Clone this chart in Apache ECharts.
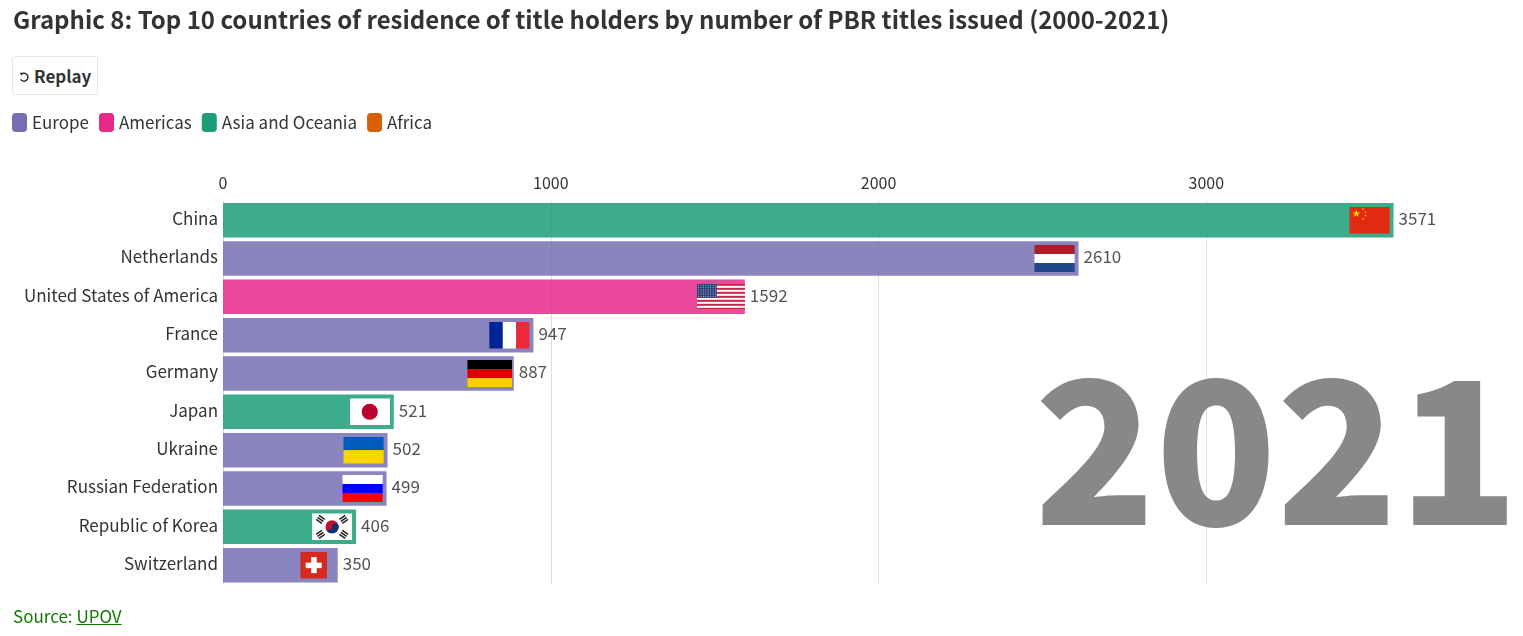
<!DOCTYPE html>
<html lang="en">
<head>
  <meta charset="UTF-8">
  <title>Graphic 8: Top 10 countries of residence of title holders</title>
  <script src="https://cdn.jsdelivr.net/npm/echarts@6/dist/echarts.min.js"></script>
  <style>
    html, body { margin: 0; padding: 0; background: #fff; overflow: hidden; }
    body { font-family: "Noto Sans CJK SC", "Noto Sans", sans-serif; color: #333; }
    #chart { position: absolute; left: 0; top: 0; width: 1523px; height: 636px; }
    #replay {
      position: absolute; left: 12px; top: 56px; width: 86px; height: 39px; box-sizing: border-box;
      background: #fff; border: 1px solid #e6e6e6; border-radius: 3px; padding: 0 0 0 6px;
      font: 700 17px/36px "Noto Sans CJK SC", sans-serif; color: #333; text-align: left;
    }
    #replay svg { vertical-align: 0px; margin-right: 4px; }
    #source { position: absolute; left: 13px; top: 604px; font-size: 17px; line-height: 24px; color: #117a00; }
    #source a { color: #117a00; text-decoration: underline; }
  </style>
</head>
<body>
  <div id="chart"></div>
  <button id="replay"><svg width="11" height="11" viewBox="0 0 11 11"><path d="M2.6 1.9 A4 4 0 1 1 1.6 7.4" fill="none" stroke="#333" stroke-width="1.5"/><path d="M0.6 0.8 L4.3 0.8 L2.4 3.8 Z" fill="#333"/></svg>Replay</button>
  <div id="source">Source: <a href="#">UPOV</a></div>
  <script>
    const titleText = 'Graphic 8: Top 10 countries of residence of title holders by number of PBR titles issued (2000-2021)';
    const yearText = '2021';
    const countries = ['China', 'Netherlands', 'United States of America', 'France', 'Germany', 'Japan', 'Ukraine', 'Russian Federation', 'Republic of Korea', 'Switzerland'];
    const titles = [3571, 2610, 1592, 947, 887, 521, 502, 499, 406, 350];
    const regionOf = ['Asia and Oceania', 'Europe', 'Americas', 'Europe', 'Europe', 'Asia and Oceania', 'Europe', 'Europe', 'Asia and Oceania', 'Europe'];
    const regions = ['Europe', 'Americas', 'Asia and Oceania', 'Africa'];
    const regionColors = ['#7570b3', '#e7298a', '#1b9e77', '#d95f02'];
    const xTicks = [0, 1000, 2000, 3000];

    // flags, as small svg pictures
    const font = '"Noto Sans CJK SC", "Noto Sans", sans-serif';
    function svg(w, h, body) {
      return 'image://data:image/svg+xml,' + encodeURIComponent(
        '<svg xmlns="http://www.w3.org/2000/svg" width="' + w * 2 + '" height="' + h * 2 + '" viewBox="0 0 ' + w + ' ' + h + '">' + body + '</svg>');
    }
    function star(cx, cy, r, fill) {
      let pts = [];
      for (let i = 0; i < 10; i++) {
        const a = -Math.PI / 2 + i * Math.PI / 5, q = i % 2 ? r * 0.4 : r;
        pts.push((cx + q * Math.cos(a)).toFixed(2) + ',' + (cy + q * Math.sin(a)).toFixed(2));
      }
      return '<polygon points="' + pts.join(' ') + '" fill="' + fill + '"/>';
    }
    function rect(x, y, w, h, fill) {
      return '<rect x="' + x + '" y="' + y + '" width="' + w + '" height="' + h + '" fill="' + fill + '"/>';
    }
    function usFlag() {
      let b = rect(0, 0, 48, 26, '#fff');
      for (let i = 0; i < 7; i++) b += rect(0, i * 4, 48, 2, '#c8254a');
      b += rect(0, 0, 20, 14, '#2b3f75');
      for (let r = 0; r < 6; r++) for (let c = 0; c < 8; c++) b += rect(1.5 + c * 2.4, 1.2 + r * 2.2, 0.9, 0.9, '#c9cfe2');
      return svg(48, 26, b);
    }
    function krFlag() {
      let b = rect(0, 0, 40, 27, '#fff');
      b += '<circle cx="20" cy="13.5" r="6.5" fill="#c60c30"/>';
      b += '<path d="M13.5 13.5 A3.25 3.25 0 0 0 20 13.5 A3.25 3.25 0 0 1 26.5 13.5 A6.5 6.5 0 0 1 13.5 13.5 Z" fill="#003478"/>';
      [[8.5, 6, 35], [31.5, 6, -35], [8.5, 21, -35], [31.5, 21, 35]].forEach(function (t) {
        b += '<g transform="translate(' + t[0] + ' ' + t[1] + ') rotate(' + t[2] + ')">' +
          rect(-3.5, -3.2, 7, 1.5, '#222') + rect(-3.5, -0.75, 7, 1.5, '#222') + rect(-3.5, 1.7, 7, 1.5, '#222') + '</g>';
      });
      return svg(40, 27, b);
    }
    const flagImages = {
      'China': svg(40, 27, rect(0, 0, 40, 27, '#e02b12') + star(7, 7, 4, '#ffde00') + star(13.5, 2.5, 1.2, '#ffde00') + star(16, 5.5, 1.2, '#ffde00') + star(16, 9, 1.2, '#ffde00') + star(13.5, 12, 1.2, '#ffde00')),
      'Netherlands': svg(40, 27, rect(0, 0, 40, 9, '#ae1c28') + rect(0, 9, 40, 9, '#fff') + rect(0, 18, 40, 9, '#21468b')),
      'United States of America': usFlag(),
      'France': svg(40, 27, rect(0, 0, 14, 27, '#002395') + rect(13.4, 0, 13.4, 27, '#fff') + rect(26.6, 0, 13.4, 27, '#ed2939')),
      'Germany': svg(45, 27, rect(0, 0, 45, 9, '#000') + rect(0, 9, 45, 9, '#dd0000') + rect(0, 18, 45, 9, '#ffce00')),
      'Japan': svg(40, 27, rect(0, 0, 40, 27, '#fff') + '<circle cx="20" cy="13.5" r="8" fill="#bc002d"/>'),
      'Ukraine': svg(40, 27, rect(0, 0, 40, 13.5, '#005bbb') + rect(0, 13.5, 40, 13.5, '#ffd500')),
      'Russian Federation': svg(40, 27, rect(0, 0, 40, 9, '#fff') + rect(0, 9, 40, 9, '#0000ff') + rect(0, 18, 40, 9, '#ff0000')),
      'Republic of Korea': krFlag(),
      'Switzerland': svg(27, 27, rect(0, 0, 27, 27, '#d52b1e') + rect(11, 5.5, 5.5, 16, '#fff') + rect(5.5, 11, 16, 5.5, '#fff'))
    };
    const flagSizes = {
      'United States of America': [48.5, 26], 'Germany': [45, 27], 'Switzerland': [27, 27]
    };

    const chart = echarts.init(document.getElementById('chart'));

    const barSeries = regions.map(function (name, r) {
      return {
        name: name,
        type: 'bar',
        stack: 'all',
        barWidth: '90%',
        itemStyle: { color: regionColors[r], opacity: 0.85 },
        label: {
          show: true, position: 'right', distance: 5, offset: [0, -1.5],
          color: '#333', fontSize: 17, fontFamily: font
        },
        data: titles.map(function (v, i) { return regionOf[i] === name ? v : null; })
      };
    });

    const flagSeries = {
      type: 'scatter',
      name: 'flags',
      symbolOffset: [-24, 0],
      z: 5,
      silent: true,
      itemStyle: { opacity: 1 },
      data: countries.map(function (c, i) {
        return {
          value: [titles[i], c],
          symbol: flagImages[c],
          symbolSize: flagSizes[c] || [40.5, 27]
        };
      })
    };

    chart.setOption({
      animation: false,
      textStyle: { fontFamily: font },
      title: {
        text: titleText, left: 13, top: 3, padding: 0,
        textStyle: { fontFamily: font, fontSize: 24, fontWeight: 700, color: '#333', lineHeight: 34 }
      },
      legend: {
        data: regions,
        left: 12, top: 113, padding: 0,
        icon: 'roundRect',
        itemWidth: 15, itemHeight: 19, itemGap: 10,
        itemStyle: { opacity: 1 },
        selectedMode: false,
        textStyle: { fontFamily: font, fontSize: 17, color: '#333' }
      },
      grid: { left: 223, top: 201, width: 1245.6, height: 383.3 },
      xAxis: {
        type: 'value', position: 'top', min: 0, max: 3800, interval: 1000,
        axisLine: { show: false }, axisTick: { show: false },
        axisLabel: {
          color: '#333', fontSize: 16, fontFamily: font, margin: 10,
          customValues: xTicks,
          formatter: function (v) { return String(v); }
        },
        splitLine: { show: true, showMaxLine: false, lineStyle: { color: '#dedede', width: 1 } }
      },
      yAxis: {
        type: 'category', data: countries, inverse: true,
        axisLine: { show: false }, axisTick: { show: false },
        // bottom-aligned with a tiny line height lifts the labels about 1.5px
        axisLabel: { color: '#333', fontSize: 17, fontFamily: font, margin: 5, verticalAlign: 'bottom', lineHeight: 3 }
      },
      graphic: [{
        type: 'text', right: 4, top: 350, z: 1,
        style: { text: yearText, fontFamily: font, fontSize: 199, fontWeight: 900, fill: '#888888' }
      }],
      series: barSeries.concat([flagSeries])
    });
  </script>
</body>
</html>
